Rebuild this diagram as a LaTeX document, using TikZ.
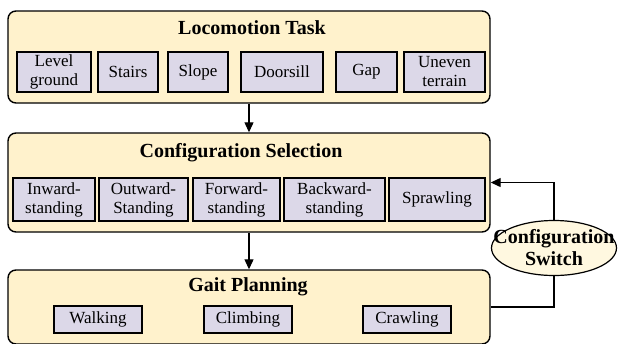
\documentclass[tikz,border=0pt]{standalone}
\usepackage{fontspec}
\setmainfont{Liberation Serif}
\newfontfamily\diagfont{Liberation Serif}
\usepackage{xcolor}
\usetikzlibrary{shapes.geometric,arrows.meta,positioning,calc}

\definecolor{stagefill}{HTML}{FFF2CC}
\definecolor{itemfill}{HTML}{DCD8E8}
\definecolor{switchfill}{HTML}{FFF8E0}

\tikzset{
    stage/.style={draw, line width=1.4pt, rounded corners=8pt, fill=stagefill, inner sep=0pt},
    item/.style={draw, line width=1.2pt, fill=itemfill, inner sep=0pt, align=center,
        font=\diagfont\fontsize{17}{19}\selectfont},
    stagetitle/.style={font=\diagfont\fontsize{20}{22}\selectfont\bfseries, inner sep=0pt},
    switchnode/.style={draw, line width=1.2pt, ellipse, fill=switchfill, inner sep=0pt,
        minimum width=125pt, minimum height=55pt, align=center,
        font=\diagfont\fontsize{20}{22}\selectfont\bfseries},
    flow/.style={line width=1.2pt, -{Triangle[length=10pt,width=9pt]}}
}

\begin{document}
\begin{tikzpicture}[x=1pt, y=-1pt]
    \useasboundingbox (0,0) rectangle (619,343);

    % Locomotion task
    \node[stage, minimum width=482pt, minimum height=92pt] (task) at (249,57) {};
    \node[stagetitle] (tasktitle) at (252,28) {Locomotion Task};
    \node[item, minimum width=74pt, minimum height=40pt] (level) at (54,72) {Level\\ground};
    \node[item, minimum width=60pt, minimum height=40pt] (stairs) at (128,72) {Stairs};
    \node[item, minimum width=60pt, minimum height=40pt] (slope) at (198,72) {Slope};
    \node[item, minimum width=82pt, minimum height=40pt] (doorsill) at (282,72) {Doorsill};
    \node[item, minimum width=61pt, minimum height=40pt] (gap) at (366.5,72) {Gap};
    \node[item, minimum width=81pt, minimum height=40pt] (uneven) at (444.5,72) {Uneven\\terrain};

    % Configuration selection
    \node[stage, minimum width=482pt, minimum height=99pt] (config) at (249,182.5) {};
    \node[stagetitle] (configtitle) at (241,153) {Configuration Selection};
    \node[item, minimum width=82pt, minimum height=43pt] (inward) at (54,199.5) {Inward-\\standing};
    \node[item, minimum width=89pt, minimum height=43pt] (outward) at (143.5,199.5) {Outward-\\Standing};
    \node[item, minimum width=87pt, minimum height=43pt] (forward) at (236.5,199.5) {Forward-\\standing};
    \node[item, minimum width=101pt, minimum height=43pt] (backward) at (334.5,199.5) {Backward-\\standing};
    \node[item, minimum width=96pt, minimum height=43pt] (sprawl) at (437,199.5) {Sprawling};

    % Gait planning
    \node[stage, minimum width=482pt, minimum height=74pt] (gait) at (249,307) {};
    \node[stagetitle] (gaittitle) at (248,287) {Gait Planning};
    \node[item, minimum width=88pt, minimum height=27pt] (walk) at (98,319.5) {Walking};
    \node[item, minimum width=88pt, minimum height=27pt] (climb) at (248,319.5) {Climbing};
    \node[item, minimum width=88pt, minimum height=27pt] (crawl) at (407,319.5) {Crawling};

    % Switch (text wider than the ellipse)
    \node[switchnode] (switch) at (554,248) {\makebox[0pt]{Configuration}\\\makebox[0pt]{Switch}};

    % Connectors
    \draw[flow] (task.south) -- (config.north);
    \draw[flow] (config.south) -- (gait.north);
    \draw[line width=1.2pt] (gait.east) -| (switch.south);
    \draw[flow] (switch.north) |- (config.east);
\end{tikzpicture}
\end{document}
